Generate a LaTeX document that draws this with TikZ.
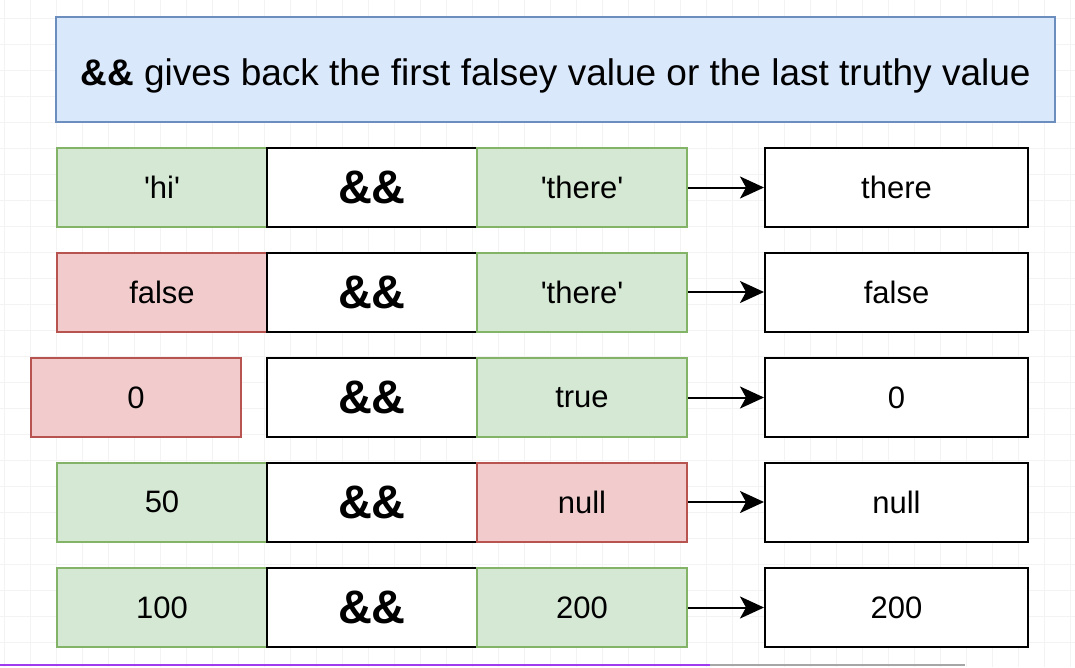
\documentclass[tikz,border=0pt]{standalone}
\usepackage{fontspec}
\setmainfont{Liberation Sans}
\usetikzlibrary{arrows.meta, positioning}
\definecolor{titlefill}{RGB}{218,232,252}
\definecolor{titleline}{RGB}{108,142,191}
\definecolor{truthyfill}{RGB}{213,232,212}
\definecolor{truthyline}{RGB}{130,179,102}
\definecolor{falseyfill}{RGB}{242,204,204}
\definecolor{falseyline}{RGB}{184,84,80}
\definecolor{gridgray}{RGB}{243,243,243}
\definecolor{edgepurple}{RGB}{160,60,240}

\begin{document}
\begin{tikzpicture}[x=1pt, y=-1pt,
    cell/.style={rectangle, line width=2pt, minimum width=210pt, minimum height=79pt, inner sep=0pt,
        font=\fontsize{31}{37}\selectfont},
    truthy/.style={cell, fill=truthyfill, draw=truthyline},
    falsey/.style={cell, fill=falseyfill, draw=falseyline},
    andop/.style={cell, fill=white, draw=black, font=\fontsize{47}{53}\selectfont\bfseries},
    result/.style={cell, fill=white, draw=black, minimum width=263pt},
    gives/.style={-{Stealth[length=24pt, width=22pt, inset=6pt]}, line width=2pt}]
\useasboundingbox (0,0) rectangle (1075,667);
\fill[white] (0,0) rectangle (1075,667);

% Canvas grid
\foreach \gx in {4,30,...,1075} \draw[gridgray, line width=1pt] (\gx,0) -- (\gx,667);
\foreach \gy in {18,44,...,667} \draw[gridgray, line width=1pt] (0,\gy) -- (1075,\gy);

% Heading
\node[rectangle, fill=titlefill, draw=titleline, line width=2pt, minimum width=999pt, minimum height=105pt,
    text height=39pt, text depth=8pt, inner ysep=0pt]
    (title) at (555.5,69.5) {\fontsize{37}{44}\selectfont\textbf{\&\&} gives back the first falsey value or the last truthy value};

% 'hi' && 'there'
\node[truthy] (hi) at (162,187.5) {\textquotesingle hi\textquotesingle};
\node[andop] (op1) at (372,187.5) {\&\&};
\node[truthy] (there1) at (582,187.5) {\textquotesingle there\textquotesingle};
\node[result] (res1) at (896.5,187.5) {there};
\draw[gives] (there1) -- (res1);

% false && 'there'
\node[falsey] (false) at (162,292) {false};
\node[andop] (op2) at (372,292) {\&\&};
\node[truthy] (there2) at (582,292) {\textquotesingle there\textquotesingle};
\node[result] (res2) at (896.5,292) {false};
\draw[gives] (there2) -- (res2);

% 0 && true
\node[falsey] (zero) at (136,397.5) {0};
\node[andop] (op3) at (372,397.5) {\&\&};
\node[truthy] (true) at (582,397.5) {true};
\node[result] (res3) at (896.5,397.5) {0};
\draw[gives] (true) -- (res3);

% 50 && null
\node[truthy] (fifty) at (162,502) {50};
\node[andop] (op4) at (372,502) {\&\&};
\node[falsey] (null) at (582,502) {null};
\node[result] (res4) at (896.5,502) {null};
\draw[gives] (null) -- (res4);

% 100 && 200
\node[truthy] (hundred) at (162,607.5) {100};
\node[andop] (op5) at (372,607.5) {\&\&};
\node[truthy] (twohundred) at (582,607.5) {200};
\node[result] (res5) at (896.5,607.5) {200};
\draw[gives] (twohundred) -- (res5);

% Bottom edge
\draw[edgepurple, line width=2.5pt] (0,665) -- (710,665);
\draw[gray!70, line width=1.5pt] (710,665) -- (965,665);
\end{tikzpicture}
\end{document}
